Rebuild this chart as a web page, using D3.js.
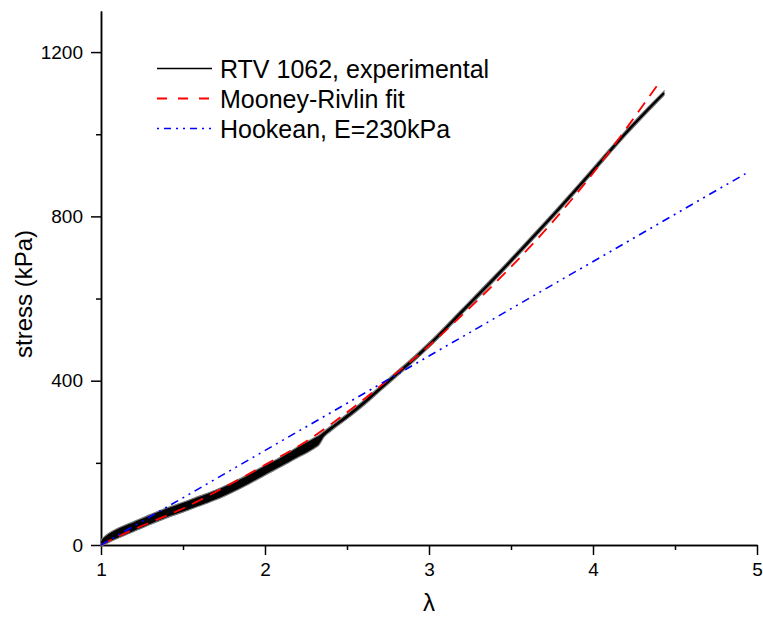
<!DOCTYPE html>
<html>
<head>
<meta charset="utf-8">
<script src="https://cdn.jsdelivr.net/npm/d3@7"></script>
<style>
  body { margin: 0; background: #fff; }
  svg { display: block; font-family: "Liberation Sans", Arial, Helvetica, sans-serif; }
  .axis path, .axis line { stroke: #000; stroke-width: 1.5; }
  .axis text { font-size: 19px; fill: #000; }
</style>
</head>
<body>
<svg id="chart" width="763" height="617"></svg>
<script>
// experimental curve: centre of the black band and its half width (kPa)
const expLambda = [1.00, 1.05, 1.10, 1.20, 1.30, 1.40, 1.50, 1.60, 1.70, 1.80, 1.90, 2.00, 2.10, 2.20, 2.30, 2.33, 2.36, 2.40, 2.50, 2.60, 2.70, 2.80, 2.90, 3.00, 3.20, 3.40, 3.60, 3.80, 4.00, 4.20, 4.433];
const expStress = [5, 18, 28, 45, 62, 78, 92, 107, 122, 140, 160, 182, 203, 226, 248, 256, 270, 283, 313, 345, 380, 415, 450, 487, 568, 650, 735, 822, 912, 1003, 1100];
const expSpread = [8, 11, 12, 12, 12, 12, 12, 12, 12, 12, 12, 12, 12, 13, 13, 12, 7, 6, 6, 6, 6, 6, 6, 6, 6, 6, 6, 6, 6, 6, 5];

// Mooney-Rivlin fit
const mrLambda = [1.00, 1.10, 1.20, 1.30, 1.50, 1.75, 2.00, 2.25, 2.50, 2.75, 3.00, 3.25, 3.50, 3.75, 4.00, 4.25, 4.415];
const mrStress = [0, 20, 38, 55, 89, 140, 195, 252, 323, 402, 485, 578, 677, 785, 905, 1040, 1132];

// Hookean, E = 230 kPa
const hkLambda = [1.00, 4.93];
const hkStress = [0, 904];

const xMajor = [1, 2, 3, 4, 5];
const xMinor = [1.5, 2.5, 3.5, 4.5];
const yMajor = [0, 400, 800, 1200];
const yMinor = [200, 600, 1000];

const legendLabels = ["RTV 1062, experimental", "Mooney-Rivlin fit", "Hookean, E=230kPa"];

const svg = d3.select("#chart");
const x = d3.scaleLinear().domain([1, 5]).range([101, 757]);
const y = d3.scaleLinear().domain([0, 1300]).range([545, 11]);

// axes
svg.append("g").attr("class", "axis").attr("transform", "translate(0,545)")
  .call(d3.axisBottom(x).tickValues(xMinor).tickSize(5).tickSizeOuter(0).tickFormat(""));
svg.append("g").attr("class", "axis").attr("transform", "translate(0,545)")
  .call(d3.axisBottom(x).tickValues(xMajor).tickSize(10).tickSizeOuter(0).tickPadding(8).tickFormat(d3.format("d")));
svg.append("g").attr("class", "axis").attr("transform", "translate(101,0)")
  .call(d3.axisLeft(y).tickValues(yMinor).tickSize(5).tickSizeOuter(0).tickFormat(""));
svg.append("g").attr("class", "axis").attr("transform", "translate(101,0)")
  .call(d3.axisLeft(y).tickValues(yMajor).tickSize(10).tickSizeOuter(0).tickPadding(8).tickFormat(d3.format("d")));

svg.append("text")
  .attr("transform", "translate(32,294) rotate(-90)")
  .attr("text-anchor", "middle")
  .attr("font-size", "24px")
  .text("stress (kPa)");

svg.append("text")
  .attr("x", 429).attr("y", 611)
  .attr("text-anchor", "middle")
  .attr("font-size", "24px")
  .text("λ");

// experimental band
const expData = expLambda.map((l, i) => ({ l: l, s: expStress[i], w: expSpread[i] }));
const band = d3.area()
  .x(d => x(d.l))
  .y0(d => y(d.s - d.w))
  .y1(d => y(d.s + d.w))
  .curve(d3.curveMonotoneX);
svg.append("path")
  .datum(expData)
  .attr("d", band)
  .attr("fill", "#000")
  .attr("stroke", "#777")
  .attr("stroke-width", 1.2);

const expLine = d3.line().x(d => x(d.l)).y(d => y(d.s)).curve(d3.curveMonotoneX);
svg.append("path")
  .datum(expData)
  .attr("d", expLine)
  .attr("fill", "none")
  .attr("stroke", "#000")
  .attr("stroke-width", 2);

// Mooney-Rivlin
const mrData = mrLambda.map((l, i) => ({ l: l, s: mrStress[i] }));
svg.append("path")
  .datum(mrData)
  .attr("d", d3.line().x(d => x(d.l)).y(d => y(d.s)).curve(d3.curveMonotoneX))
  .attr("fill", "none")
  .attr("stroke", "#f00")
  .attr("stroke-width", 1.8)
  .attr("stroke-dasharray", "12,8");

// Hookean
const hkData = hkLambda.map((l, i) => ({ l: l, s: hkStress[i] }));
svg.append("path")
  .datum(hkData)
  .attr("d", d3.line().x(d => x(d.l)).y(d => y(d.s)))
  .attr("fill", "none")
  .attr("stroke", "#00f")
  .attr("stroke-width", 1.6)
  .attr("stroke-dasharray", "8,5,2,5,2,5");

// legend
const legendStyles = [
  { color: "#000", dash: null, width: 1.5 },
  { color: "#f00", dash: "10,11", width: 1.8 },
  { color: "#00f", dash: "2,5,7,5,2,5", width: 1.6 }
];
const legend = svg.append("g");
legendLabels.forEach((label, i) => {
  const ly = 68.5 + i * 30;
  legend.append("line")
    .attr("x1", 157).attr("x2", 212)
    .attr("y1", ly).attr("y2", ly)
    .attr("stroke", legendStyles[i].color)
    .attr("stroke-width", legendStyles[i].width)
    .attr("stroke-dasharray", legendStyles[i].dash);
  legend.append("text")
    .attr("x", 220).attr("y", ly + 9)
    .attr("font-size", "25px")
    .text(label);
});
</script>
</body>
</html>
